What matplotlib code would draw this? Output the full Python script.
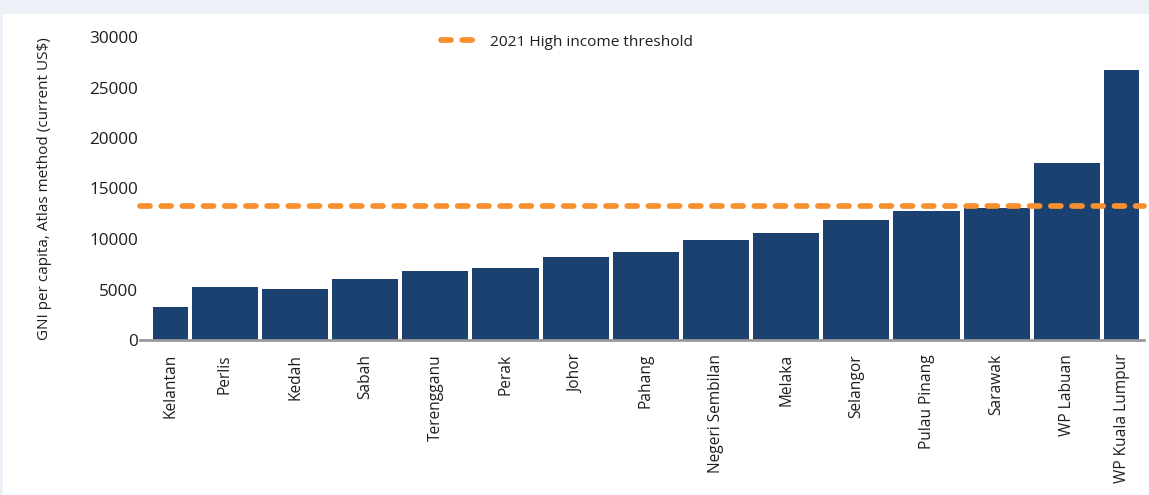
import numpy as np
import matplotlib.pyplot as plt
from matplotlib.patches import Rectangle

plt.rcParams['font.family'] = ['Open Sans', 'DejaVu Sans']

states = ['Kelantan', 'Perlis', 'Kedah', 'Sabah', 'Terengganu', 'Perak', 'Johor',
          'Pahang', 'Negeri Sembilan', 'Melaka', 'Selangor', 'Pulau Pinang',
          'Sarawak', 'WP Labuan', 'WP Kuala Lumpur']
gni = [3270, 5250, 5050, 6040, 6830, 7130, 8220, 8710, 9900, 10590, 11880,
       12770, 13070, 17520, 26730]
threshold = 13270
yticks = [0, 5000, 10000, 15000, 20000, 25000, 30000]

# first and last bar are about half slots (as in the original)
slots = np.array([0.56] + [1.0] * 13 + [0.56])
bounds = np.concatenate([[-0.06], -0.06 + np.cumsum(slots)])
gap = 0.057
lefts = bounds[:-1] + gap / 2
widths = slots - gap
centers = lefts + widths / 2

txt = '#1e1e1e'

fig = plt.figure(figsize=(11.49, 4.95), dpi=100, facecolor='#edf0f6')
fig.patches.append(Rectangle((3 / 1149, 0), 1, (495 - 14) / 495,
                             transform=fig.transFigure, facecolor='white',
                             edgecolor='none', zorder=-10))
ax = fig.add_axes([140 / 1149, 155 / 495, 1004 / 1149, 303 / 495])
ax.set_facecolor('white')
ax.set_zorder(1)

ax.bar(lefts, gni, widths, align='edge', color='#1a4170', zorder=2)
ax.axhline(threshold, color='#f7902f', lw=4.1, dashes=(1.75, 1.97),
           dash_capstyle='round', zorder=3, clip_on=False,
           label='2021 High income threshold')

ax.set_xlim(-0.21, 14.1)
ax.set_ylim(0, 30000)
ax.set_yticks(yticks)
ax.set_yticklabels([str(v) for v in yticks])
ax.set_xticks(centers)
ax.set_xticklabels(states, rotation=90, va='top', ha='center')
ax.tick_params(axis='y', length=0, pad=1.5, labelsize=12.3, labelcolor=txt)
ax.tick_params(axis='x', length=0, pad=10, labelsize=11.2, labelcolor=txt)

for s in ['top', 'right', 'left']:
    ax.spines[s].set_visible(False)
ax.spines['bottom'].set_color('#999999')
ax.spines['bottom'].set_linewidth(2)
ax.spines['bottom'].set_zorder(4)

ax.set_ylabel('GNI per capita, Atlas method (current US$)', fontsize=11,
              color=txt, labelpad=27)

ax.legend(loc='center', bbox_to_anchor=(0.425, 0.983), frameon=False,
          fontsize=11.1, handlelength=2.7, handletextpad=0.5,
          labelcolor=txt)

fig.savefig('out.png', dpi=100, facecolor=fig.get_facecolor())
